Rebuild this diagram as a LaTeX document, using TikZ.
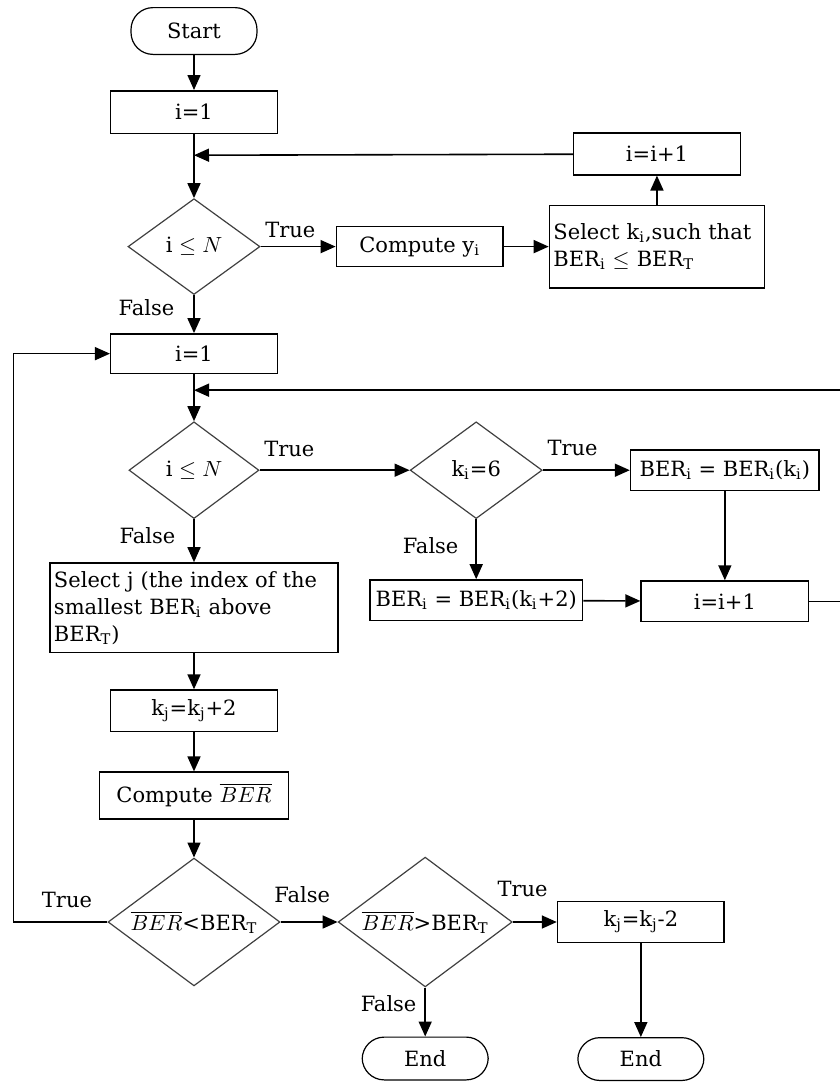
\documentclass[tikz,border=0pt]{standalone}
\usepackage{amsmath}
\usepackage{fontspec}
\setmainfont{DejaVu Serif}
\usepackage{tikz}
\usetikzlibrary{arrows.meta, positioning, shapes.geometric, calc}

\newcommand{\tsub}[1]{\textsubscript{#1}}

\begin{document}
\begin{tikzpicture}[
    font=\fontsize{10.5}{13.5}\selectfont,
    node distance=20pt,
    block/.style={
        rectangle,
        draw=black,
        line width=0.75pt,
        align=center,
        inner sep=2pt
    },
    decision/.style={
        diamond,
        draw=black!75,
        line width=0.6pt,
        aspect=1.35,
        inner sep=0pt,
        align=center
    },
    terminal/.style={
        rectangle,
        draw=black,
        line width=0.6pt,
        rounded corners=11pt,
        minimum width=63pt,
        minimum height=21.4pt
    },
    flow/.style={
        draw,
        line width=0.8pt,
        -{Triangle[length=7.5pt,width=6.5pt]}
    },
    tag/.style={inner sep=2pt}
]

\useasboundingbox (0,0) rectangle (420pt,-541pt);

% First pass: compute y_i and choose k_i
\node[terminal, minimum height=23.4pt] (start) at (97pt,-15.5pt) {Start};
\node[block, below=17.5pt of start, minimum width=83.3pt, minimum height=21.3pt] (init1) {i=1};
\node[decision, below=32pt of init1, minimum width=66pt, minimum height=47.9pt] (test1) {i $\leq N$};
\node[block, right=37.5pt of test1, minimum width=83.3pt, minimum height=20pt] (compy) {Compute y\tsub{i}};
\node[block, right=22.5pt of compy, text width=103.5pt, align=left, minimum height=41.3pt] (selk) {Select k\tsub{i},such that\\BER\tsub{i} $\leq$ BER\tsub{T}};
\node[block, above=14.5pt of selk, minimum width=83.3pt, minimum height=20.8pt] (incr1) {i=i+1};
\coordinate (j1) at ($(init1.south)!0.33!(test1.north)$);

% Second pass: pick the modulation per user
\node[block, below=19pt of test1, minimum width=83.3pt, minimum height=19.8pt] (init2) {i=1};
\node[decision, below=23.5pt of init2, minimum width=65pt, minimum height=48.4pt] (test2) {i $\leq N$};
\coordinate (j2) at ($(init2.south)!0.34!(test2.north)$);
\node[decision, right=75pt of test2, minimum width=66pt, minimum height=48.4pt] (testk) {k\tsub{i}=6};
\node[block, right=43.5pt of testk, minimum width=94.3pt, minimum height=20.3pt] (berk) {BER\tsub{i} = BER\tsub{i}(k\tsub{i})};
\node[block, below=30pt of testk, minimum width=106.3pt, minimum height=20.3pt] (berk2) {BER\tsub{i} = BER\tsub{i}(k\tsub{i}+2)};
\node[block, below=44.5pt of berk, minimum width=83.8pt, minimum height=20.3pt] (incr2) {i=i+1};

% Adjust k_j against the target
\node[block, below=21.5pt of test2, text width=140pt, align=left, minimum height=44.8pt] (selj) {Select j (the index of the\\smallest BER\tsub{i} above\\BER\tsub{T})};
\node[block, below=18pt of selj, minimum width=83.3pt, minimum height=20.8pt] (incj) {k\tsub{j}=k\tsub{j}+2};
\node[block, below=19.5pt of incj, minimum width=94.3pt, minimum height=23.3pt] (avg) {Compute $\overline{BER}$};
\node[decision, below=19pt of avg, minimum width=86pt, minimum height=63.9pt] (test3) {$\overline{BER}$<BER\tsub{T}};
\node[decision, right=28.5pt of test3, minimum width=87pt, minimum height=64.9pt] (test4) {$\overline{BER}$>BER\tsub{T}};
\node[block, right=22pt of test4, minimum width=83.3pt, minimum height=20.3pt] (dec) {k\tsub{j}=k\tsub{j}-2};
\node[terminal, below=24.5pt of test4] (end1) {End};
\node[terminal, below=47pt of dec] (end2) {End};

% Connectors
\draw[flow] (start) -- (init1);
\draw[flow] (init1) -- (test1);
\draw[flow] (test1) -- node[tag, pos=0, above right, yshift=2pt] {True} (compy);
\draw[flow] (compy) -- (selk);
\draw[flow] (selk) -- (incr1);
\draw[flow] (incr1) -- (j1);
\draw[flow] (test1) -- node[tag, pos=0, below left, xshift=-7.5pt] {False} (init2);

\draw[flow] (init2) -- (test2);
\draw[flow] (test2) -- node[tag, pos=0, above right, yshift=4.5pt] {True} (testk);
\draw[flow] (testk) -- node[tag, pos=0, above right, yshift=5pt] {True} (berk);
\draw[flow] (testk) -- node[tag, pos=0, below left, xshift=-6.5pt, yshift=-7pt] {False} (berk2);
\draw[flow] (berk) -- (incr2);
\draw[flow] (berk2) -- (incr2);
\draw[flow] (incr2.east) -- ++(15.5pt,0) |- (j2);
\draw[flow] (test2) -- node[tag, pos=0, below left, xshift=-7pt, yshift=-2pt] {False} (selj);

\draw[flow] (selj) -- (incj);
\draw[flow] (incj) -- (avg);
\draw[flow] (avg) -- (test3);
\draw[flow] (test3.west) -- node[tag, pos=0.43, above, yshift=4.5pt] {True} ++(-47pt,0) |- (init2.west);
\draw[flow] (test3) -- node[tag, pos=0, above right, xshift=-5.5pt, yshift=7pt] {False} (test4);
\draw[flow] (test4) -- node[tag, pos=0, above right, xshift=-10pt, yshift=10pt] {True} (dec);
\draw[flow] (test4) -- node[tag, pos=0, below left, xshift=-2pt, yshift=-1.5pt] {False} (end1);
\draw[flow] (dec) -- (end2);

\end{tikzpicture}
\end{document}
